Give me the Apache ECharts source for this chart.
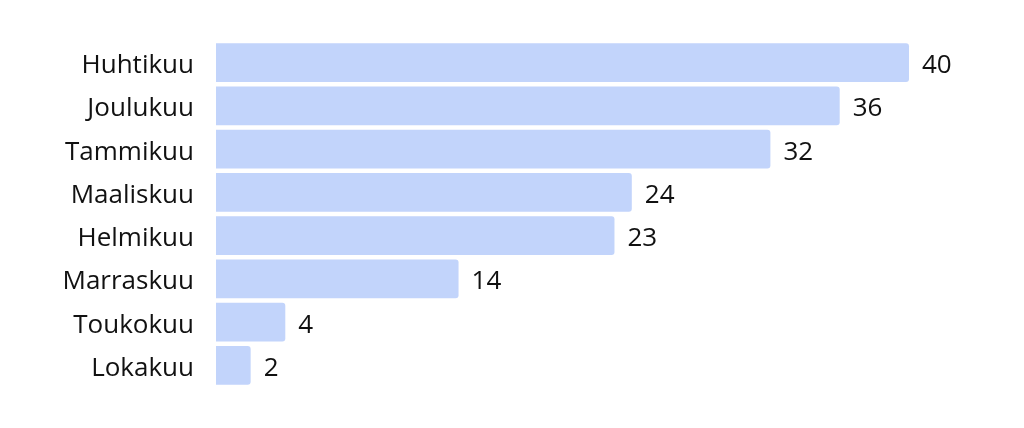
<!DOCTYPE html>
<html>
<head>
<meta charset="utf-8">
<script src="https://cdn.jsdelivr.net/npm/echarts@6/dist/echarts.min.js"></script>
<style>
  html, body { margin: 0; padding: 0; background: #fff; }
  #chart { width: 1024px; height: 428px; }
</style>
</head>
<body>
<div id="chart"></div>
<script>
// top to bottom as shown
const months = ['Huhtikuu', 'Joulukuu', 'Tammikuu', 'Maaliskuu', 'Helmikuu', 'Marraskuu', 'Toukokuu', 'Lokakuu'];
const counts = [40, 36, 32, 24, 23, 14, 4, 2];

const chart = echarts.init(document.getElementById('chart'));
chart.setOption({
    animation: false,
    grid: { left: 216, right: 115, top: 41, bottom: 41 },
    xAxis: {
        type: 'value',
        min: 0,
        max: 40,
        show: false
    },
    yAxis: {
        type: 'category',
        data: months,
        inverse: true,
        axisLine: { show: false },
        axisTick: { show: false },
        axisLabel: {
            margin: 22,
            // nudge the month names a few px down, like the reference
            formatter: v => '{m|' + v + '}',
            rich: {
                m: {
                    fontFamily: 'Open Sans',
                    fontSize: 26,
                    color: '#111',
                    padding: [6, 0, 0, 0]
                }
            }
        }
    },
    series: [{
        type: 'bar',
        data: counts,
        barCategoryGap: '10%',
        itemStyle: { color: '#c2d4fb', borderRadius: [0, 3, 3, 0] },
        label: {
            show: true,
            position: 'right',
            distance: 13,
            offset: [0, 3],
            fontFamily: 'Open Sans',
            fontSize: 26,
            color: '#111'
        }
    }]
});
</script>
</body>
</html>
